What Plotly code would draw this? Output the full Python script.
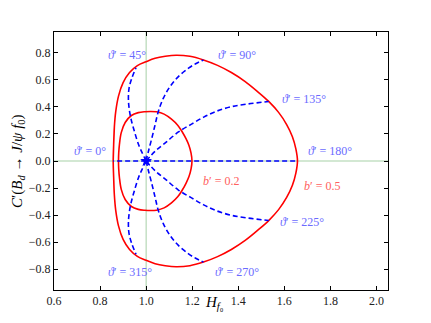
import plotly.graph_objects as go

# b' = 0.5 contour, upper half (H_f0, C')
big_h = [0.857, 0.859, 0.862, 0.868, 0.880, 0.900, 0.928, 0.962, 1.000, 1.039, 1.083,
         1.130, 1.190, 1.249, 1.310, 1.370, 1.430, 1.485, 1.532, 1.575, 1.610, 1.635,
         1.650, 1.657]
big_c = [0.000, 0.120, 0.250, 0.365, 0.480, 0.580, 0.655, 0.706, 0.735, 0.760, 0.775,
         0.783, 0.775, 0.748, 0.708, 0.655, 0.588, 0.512, 0.441, 0.360, 0.270, 0.180,
         0.090, 0.000]

# b' = 0.2 contour, upper half
small_h = [0.880, 0.881, 0.884, 0.892, 0.909, 0.936, 0.966, 0.995, 1.020, 1.045, 1.078,
           1.110, 1.137, 1.157, 1.173, 1.186, 1.195, 1.199]
small_c = [0.000, 0.060, 0.122, 0.210, 0.285, 0.337, 0.358, 0.365, 0.367, 0.364, 0.347,
           0.310, 0.265, 0.215, 0.165, 0.115, 0.058, 0.000]

# constant theta' lines (upper half; the lower ones are their mirror images)
th45_h = [1.000, 0.983, 0.967, 0.949, 0.935, 0.926, 0.923, 0.926, 0.938, 0.956]
th45_c = [0.000, 0.060, 0.122, 0.220, 0.306, 0.392, 0.466, 0.540, 0.614, 0.690]
th90_h = [1.000, 1.010, 1.025, 1.039, 1.053, 1.075, 1.104, 1.140, 1.184, 1.215, 1.249]
th90_c = [0.000, 0.072, 0.171, 0.269, 0.367, 0.466, 0.552, 0.625, 0.687, 0.720, 0.748]
th135_h = [1.000, 1.039, 1.083, 1.140, 1.199, 1.250, 1.300, 1.365, 1.438, 1.532]
th135_c = [0.000, 0.072, 0.134, 0.215, 0.275, 0.325, 0.365, 0.400, 0.421, 0.441]
th0_h = [1.000, 0.857]
th180_h = [1.000, 1.657]

theta_labels = ["0°", "45°", "90°", "135°", "180°", "225°", "270°", "315°"]
theta_label_h = [0.757, 0.916, 1.394, 1.684, 1.800, 1.677, 1.394, 0.930]
theta_label_c = [0.077, 0.785, 0.785, 0.460, 0.077, -0.450, -0.825, -0.825]
b_labels = ["0.2", "0.5"]
b_label_h = [1.324, 1.764]
b_label_c = [-0.149, -0.186]

BLUE = "#0000ff"
RED = "#ff0000"
SERIF = "Liberation Serif, DejaVu Serif, serif"


def loop(h, c):
    # upper half left->right, then lower half back, with a little overlap
    xs = h + h[::-1][1:] + h[1:3]
    ys = c + [-v for v in c[::-1][1:]] + c[1:3]
    return xs, ys


fig = go.Figure()

for h, c in [(big_h, big_c), (small_h, small_c)]:
    xs, ys = loop(h, c)
    fig.add_trace(go.Scatter(x=xs, y=ys, mode="lines", line=dict(color=RED, width=1.6, shape="spline"),
                             hoverinfo="skip"))

dash_lines = [(th45_h, th45_c), (th90_h, th90_c), (th135_h, th135_c)]
for h, c in dash_lines:
    for sign in (1, -1):
        fig.add_trace(go.Scatter(x=h, y=[sign * v for v in c], mode="lines",
                                 line=dict(color=BLUE, width=1.6, dash="5px,3px", shape="spline"),
                                 hoverinfo="skip"))
for h in (th0_h, th180_h):
    fig.add_trace(go.Scatter(x=h, y=[0, 0], mode="lines",
                             line=dict(color=BLUE, width=1.6, dash="5px,3px"), hoverinfo="skip"))

fig.add_trace(go.Scatter(x=[1.0], y=[0.0], mode="markers",
                         marker=dict(symbol="star", size=9, color=BLUE), hoverinfo="skip"))

# green reference lines
fig.add_shape(type="line", x0=1.0, x1=1.0, y0=-0.955, y1=0.955, line=dict(color="rgba(60,150,60,0.45)", width=1),
              layer="below")
fig.add_shape(type="line", x0=0.6, x1=2.05, y0=0, y1=0, line=dict(color="rgba(60,150,60,0.45)", width=1),
              layer="below")

annotations = []
for t, x, y in zip(theta_labels, theta_label_h, theta_label_c):
    annotations.append(dict(x=x, y=y, text="<i>ϑ</i>′ = " + t, showarrow=False,
                            font=dict(family=SERIF, size=12, color="#6b6bff")))
for t, x, y in zip(b_labels, b_label_h, b_label_c):
    annotations.append(dict(x=x, y=y, text="<i>b</i>′ = " + t, showarrow=False,
                            font=dict(family=SERIF, size=12, color="#ff6060")))
annotations.append(dict(xref="paper", yref="paper", x=0.482, y=0, yshift=-13, xanchor="center",
                        yanchor="middle", text="<i>H</i><sub><i>f</i>₀</sub>", showarrow=False,
                        font=dict(family=SERIF, size=15, color="black")))
annotations.append(dict(xref="paper", yref="paper", x=0, xshift=-36, y=0.5, xanchor="center",
                        yanchor="middle", textangle=-90,
                        text="<i>C</i>′(<i>B<sub>d</sub></i> → <i>J</i>/<i>ψ f</i><sub>0</sub>)",
                        showarrow=False, font=dict(family=SERIF, size=15, color="black")))

axis_common = dict(showgrid=False, zeroline=False, showline=True, linecolor="black", linewidth=1,
                   mirror="ticks", ticks="inside", ticklen=4, tickcolor="black",
                   tickfont=dict(family=SERIF, size=12, color="#222222"))

# the page body adds 8px of margin, so the plot margins are shifted to compensate
fig.update_layout(
    width=431, height=323,
    margin=dict(l=46, r=51, t=24, b=41),
    plot_bgcolor="white", paper_bgcolor="white",
    showlegend=False,
    annotations=annotations,
    xaxis=dict(range=[0.6, 2.05], tickvals=[0.6, 0.8, 1.0, 1.2, 1.4, 1.6, 1.8, 2.0],
               tickformat=".1f", **axis_common),
    yaxis=dict(range=[-0.955, 0.955], tickvals=[-0.8, -0.6, -0.4, -0.2, 0.0, 0.2, 0.4, 0.6, 0.8],
               tickformat=".1f", **axis_common),
)

fig.write_html("out.html")
